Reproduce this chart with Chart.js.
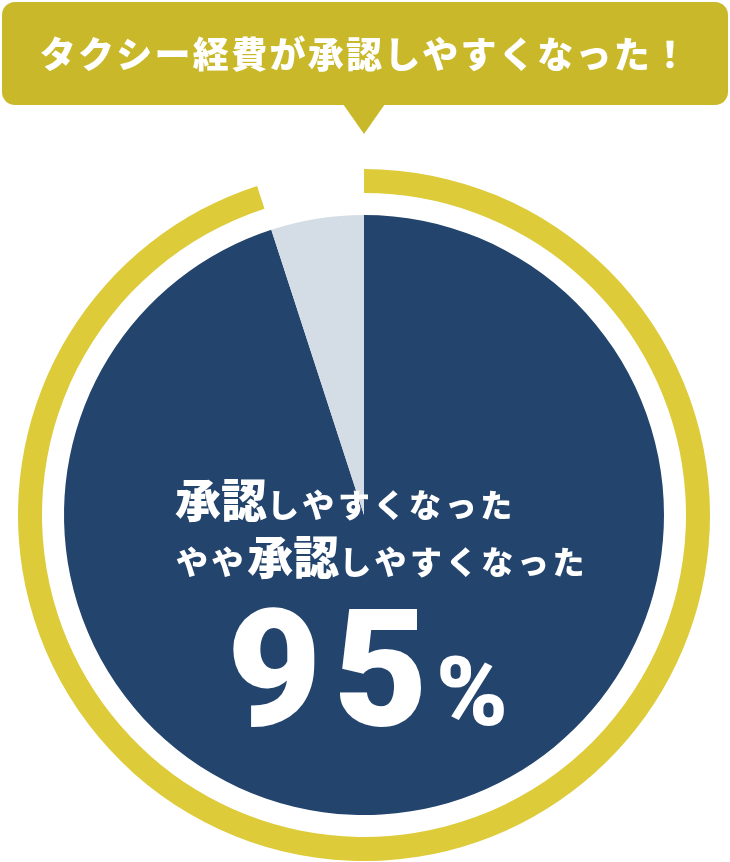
<!DOCTYPE html>
<html lang="ja">
<head>
<meta charset="utf-8">
<script src="https://cdn.jsdelivr.net/npm/chart.js@4.4.0/dist/chart.umd.min.js"></script>
<style>
  html, body { margin:0; padding:0; background:#fff; }
  #wrap { position:relative; width:730px; height:862px; overflow:hidden; font-family:"Noto Sans CJK JP","Noto Sans",sans-serif; }
  #chart { position:absolute; left:0; top:0; }
  .bubble { position:absolute; left:2px; top:2px; width:726px; height:103px; background:#C9B92A; border-radius:13px; }
  .tail { position:absolute; left:343px; top:104px; width:0; height:0; border-left:21.5px solid transparent; border-right:21.5px solid transparent; border-top:30px solid #C9B92A; }
  .btext { position:absolute; left:0; top:32px; width:730px; text-align:center; color:#fff; font-weight:900; font-size:36px; line-height:40px; letter-spacing:2.3px; white-space:nowrap; }
  .line { position:absolute; color:#fff; font-weight:900; white-space:nowrap; display:flex; align-items:baseline; line-height:1; }
  .big { font-size:46px; }
  .kana { font-size:32px; letter-spacing:3.6px; }
  .pct { position:absolute; color:#fff; white-space:nowrap; display:flex; align-items:baseline; line-height:1; font-family:"Roboto","Open Sans",sans-serif; font-weight:900; }
  .num { font-size:163px; letter-spacing:12px; }
  .sign { font-size:97px; margin-left:-4px; }
</style>
</head>
<body>
<div id="wrap">
  <canvas id="chart" width="730" height="862"></canvas>
  <div class="bubble"></div>
  <div class="tail"></div>
  <div class="btext" id="title"></div>
  <div class="line" id="l1" style="left:175px; top:474px;"></div>
  <div class="line" id="l2" style="left:176px; top:531px;"></div>
  <div class="pct" id="pct" style="left:227px; top:588px;"></div>
</div>
<script>
const categories = ["承認しやすくなった・やや承認しやすくなった", "その他"];
const shareValues = [95, 5];
const pieColors = ["#23446C", "#D4DCE5"];
const ringColors = ["#DDCB3A", "rgba(0,0,0,0)"];
const titleText = "タクシー経費が承認しやすくなった！";
const centerLine1 = [["承認", "big"], ["しやすくなった", "kana"]];
const centerLine2 = [["やや", "kana"], ["承認", "big"], ["しやすくなった", "kana"]];
const percentLabel = String(shareValues[0]);

document.getElementById("title").textContent = titleText;
function fillLine(id, parts) {
  const el = document.getElementById(id);
  parts.forEach(([t, cls]) => {
    const s = document.createElement("span");
    s.className = cls; s.textContent = t; el.appendChild(s);
  });
}
fillLine("l1", centerLine1);
fillLine("l2", centerLine2);
const pct = document.getElementById("pct");
const n = document.createElement("span"); n.className = "num"; n.textContent = percentLabel;
const sg = document.createElement("span"); sg.className = "sign"; sg.textContent = "%";
pct.appendChild(n); pct.appendChild(sg);

new Chart(document.getElementById("chart"), {
  type: "doughnut",
  data: {
    labels: categories,
    datasets: [
      { data: shareValues, backgroundColor: ringColors, borderWidth: 0, weight: 24, hoverOffset: 0 },
      { data: shareValues, backgroundColor: ["rgba(0,0,0,0)", "rgba(0,0,0,0)"], borderWidth: 0, weight: 22, hoverOffset: 0 },
      { data: shareValues, backgroundColor: pieColors, borderWidth: 0, weight: 300, hoverOffset: 0 }
    ]
  },
  options: {
    responsive: false,
    animation: false,
    events: [],
    cutout: 0,
    radius: 346,
    layout: { padding: { left: 18, top: 169, right: 20, bottom: 1 } },
    plugins: { legend: { display: false }, tooltip: { enabled: false } }
  }
});
</script>
</body>
</html>
